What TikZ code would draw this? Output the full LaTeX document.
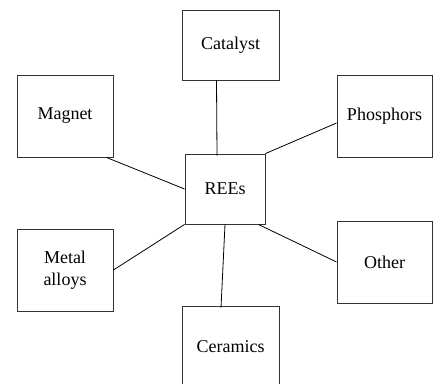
\documentclass[tikz,border=0pt]{standalone}
\usepackage{fontspec}
\setmainfont{Liberation Serif}
\usepackage{tikz}

\begin{document}
\begin{tikzpicture}[x=1pt,y=-1pt,
	usebox/.style={draw=black!80,line width=0.9pt,minimum width=96pt,minimum height=82pt,align=center,inner sep=0pt,font=\fontsize{18}{22}\selectfont},
	link/.style={line width=0.8pt}]
	\useasboundingbox (0,0) rectangle (433,383);
	\node[usebox,minimum width=97pt,minimum height=70pt] (cat) at (230.5,45) {Catalyst};
	\node[usebox] (mag) at (65,116) {Magnet};
	\node[usebox,minimum width=95pt] (pho) at (384.5,116) {Phosphors};
	\node[usebox,minimum width=80pt,minimum height=70pt] (ree) at (225,189) {REEs};
	\node[usebox] (met) at (65,270) {Metal\\alloys};
	\node[usebox,minimum width=95pt] (oth) at (384.5,262) {Other};
	\node[usebox,minimum width=97pt] (cer) at (230.5,347) {Ceramics};
	\draw[link] ([xshift=-14pt]cat.south) -- ([xshift=-8pt,yshift=-2pt]ree.north);
	\draw[link] ([xshift=-7pt]mag.south east) -- (ree.west);
	\draw[link] ([yshift=-7pt]pho.west) -- (ree.north east);
	\draw[link] (met.east) -- (ree.south west);
	\draw[link] (ree.south) -- ([xshift=-9.5pt,yshift=-2pt]cer.north);
	\draw[link] ([xshift=-7pt]ree.south east) -- (oth.west);
\end{tikzpicture}
\end{document}
